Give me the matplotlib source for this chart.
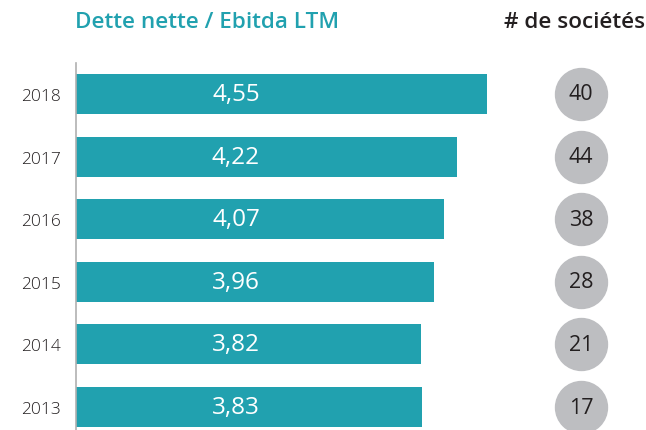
import matplotlib.pyplot as plt

# Données
annees = ['2013', '2014', '2015', '2016', '2017', '2018']
ratio = [3.83, 3.82, 3.96, 4.07, 4.22, 4.55]
nb_societes = [17, 21, 28, 38, 44, 40]

teal = '#21A1AF'
gris = '#BDBEC1'
texte = '#231F20'

plt.rcParams['font.family'] = ['Open Sans', 'DejaVu Sans']

W, H = 646, 431
fig = plt.figure(figsize=(W / 100, H / 100), dpi=100)

# axe: de x=76 px jusqu'au bord droit, de y=64 px jusqu'en bas
ax = fig.add_axes([76 / W, 0, (W - 76) / W, (H - 64) / H])
px_par_unite = 90.3
ax.set_xlim(0, (W - 76) / px_par_unite)
ax.set_ylim(-0.367, 5.495)

y = list(range(len(annees)))
ax.barh(y, ratio, height=0.64, color=teal, left=0)

x_label = (236 - 76) / px_par_unite
x_cercle = (581 - 76) / px_par_unite
for i in y:
    ax.text(x_label, i, f'{ratio[i]:.2f}'.replace('.', ','), color='white',
            fontsize=17.5, ha='center', va='center')
    ax.text(x_cercle, i, str(nb_societes[i]), color=texte,
            fontsize=15.5, ha='center', va='center', zorder=4)

ax.scatter([x_cercle] * len(y), y, s=1400, color=gris, zorder=3, clip_on=False)

ax.set_yticks(y)
ax.set_yticklabels(annees, fontsize=12.5, fontweight='light', color=texte)
ax.tick_params(axis='y', length=0, pad=11)
ax.set_xticks([])
for s in ['top', 'right', 'bottom']:
    ax.spines[s].set_visible(False)
ax.spines['left'].set_color('#B0B0B0')
ax.spines['left'].set_linewidth(1.2)

fig.text(75 / W, 1 - 23 / H, 'Dette nette / Ebitda LTM', color=teal,
         fontsize=16.2, fontweight='semibold', ha='left', va='center')
fig.text(645 / W, 1 - 23 / H, '# de sociétés', color=texte,
         fontsize=16.2, fontweight='semibold', ha='right', va='center')

fig.savefig('out.png', dpi=100)
